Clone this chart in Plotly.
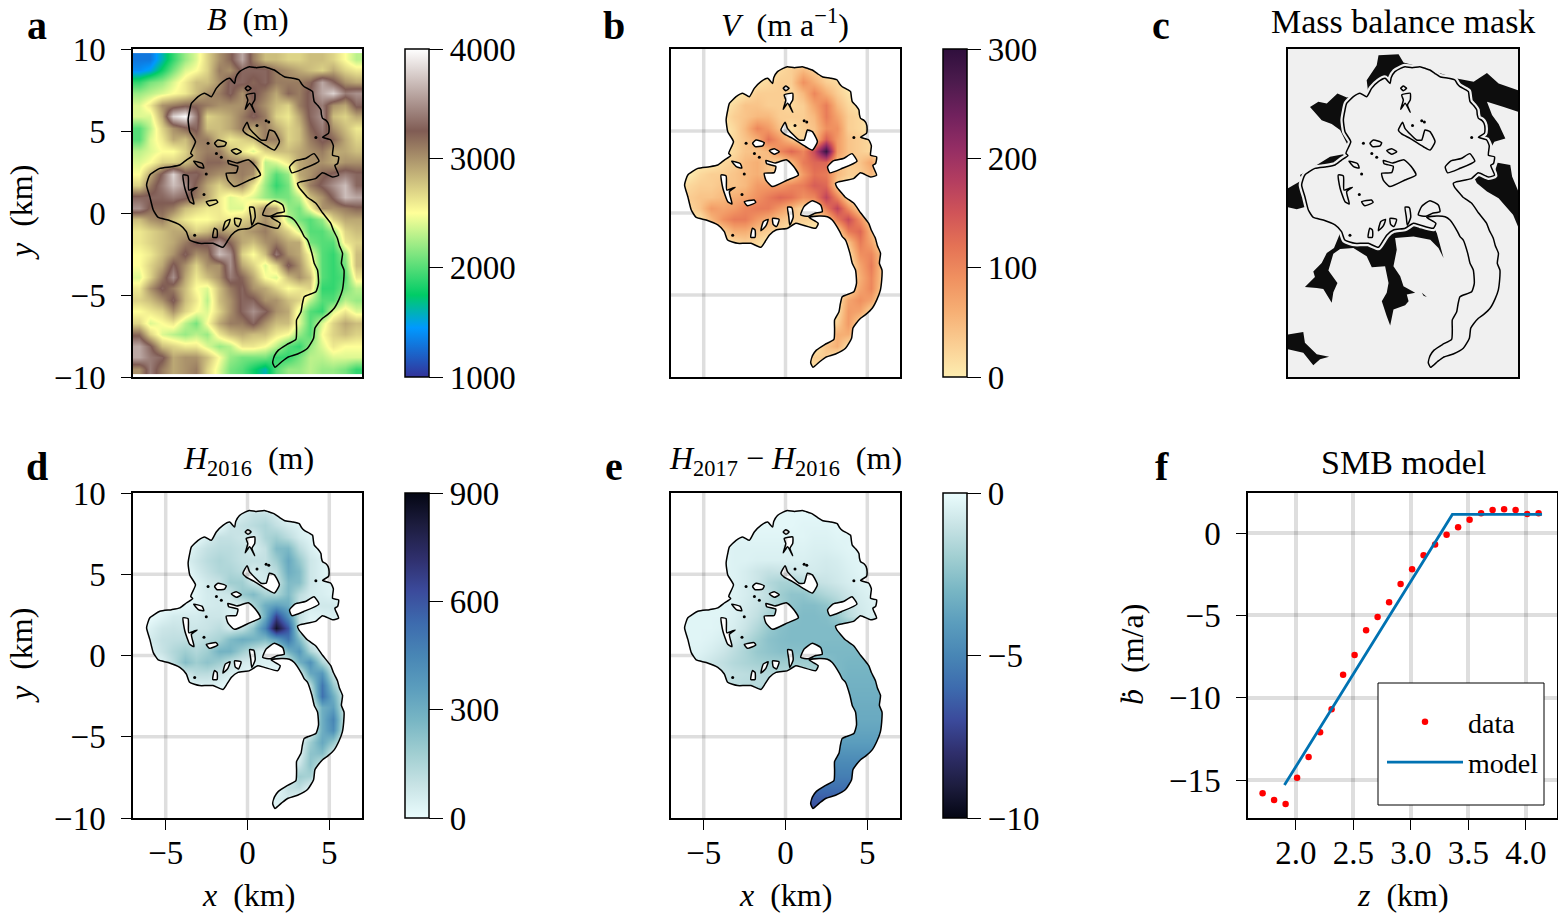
import numpy as np
import plotly.graph_objects as go

W, H = 1558, 915
FONT = "Liberation Serif"

# glacier outline (km)
outline_x = [-0.79,-0.72,-0.49,-0.15,0.12,0.55,1.03,1.40,1.64,1.95,2.25,2.75,3.16,3.30,3.47,3.80,3.98,4.03,4.08,4.30,4.49,4.52,4.59,4.80,4.93,4.99,4.95,4.59,5.09,5.25,5.20,5.57,5.51,5.34,5.57,5.20,4.58,4.16,3.23,3.06,3.13,3.64,4.18,4.60,5.09,5.25,5.50,5.62,5.81,5.74,5.90,5.88,5.80,5.60,5.30,4.95,4.59,4.30,4.12,4.04,3.67,3.06,2.45,2.09,1.68,1.54,1.65,1.89,2.40,2.96,3.00,3.00,3.27,3.35,3.47,4.18,4.34,4.28,4.08,3.94,3.67,3.47,3.30,2.86,2.56,2.05,1.44,2.00,1.85,1.03,0.63,0.13,-0.58,-0.98,-1.25,-1.50,-2.11,-2.52,-2.93,-3.54,-3.74,-4.14,-4.85,-5.46,-5.76,-5.97,-6.17,-5.97,-5.36,-4.65,-4.14,-3.74,-3.35,-3.47,-3.18,-3.53,-3.63,-3.53,-3.43,-3.02,-2.62,-2.21,-1.91,-1.50,-1.09]
outline_y = [7.90,8.25,8.62,8.82,8.92,8.86,8.92,8.80,8.72,8.50,8.31,8.22,8.11,7.88,7.70,7.52,7.40,7.05,6.79,6.55,6.28,6.00,5.77,5.65,5.47,5.15,4.86,4.62,4.45,4.10,3.52,3.42,3.02,2.91,2.30,2.20,2.45,2.10,1.90,1.81,1.60,0.98,0.59,0.00,-0.63,-1.05,-1.55,-2.00,-2.46,-3.07,-3.48,-4.10,-4.70,-5.25,-5.81,-6.15,-6.42,-6.75,-7.03,-7.64,-8.25,-8.60,-8.80,-9.07,-9.41,-9.12,-8.70,-8.36,-8.02,-7.70,-7.10,-6.52,-6.02,-5.55,-5.10,-4.80,-4.29,-3.48,-3.07,-2.46,-1.65,-1.44,-1.10,-0.43,-0.23,-0.19,-0.27,-0.63,-0.93,-0.73,-0.63,-0.93,-1.04,-1.34,-1.75,-2.09,-1.85,-1.85,-1.85,-1.65,-1.14,-0.73,-0.43,-0.27,0.18,0.99,1.71,2.32,2.72,2.82,2.93,3.23,3.50,3.64,4.35,4.96,5.67,6.28,6.68,7.09,7.30,7.09,7.60,8.01,8.21]

# rock outcrops inside the glacier (km)
holes = [
    [(-1.20,3.20),(-0.65,3.05),(0.05,3.25),(0.50,2.83),(0.79,2.32),(0.12,2.01),(-0.80,1.61),(-1.20,2.01),(-1.30,2.42),(-0.69,2.46),(-0.59,2.85),(-1.15,3.00)],
    [(-0.28,5.06),(-0.02,5.53),(0.12,5.16),(0.83,4.45),(1.14,4.45),(1.34,5.06),(1.64,4.96),(1.95,4.35),(1.64,3.84),(1.24,4.04),(0.43,4.55),(-0.08,4.82)],
    [(2.57,2.81),(2.92,3.18),(3.54,3.32),(4.06,3.62),(4.37,3.16),(3.44,2.71),(2.71,2.45)],
    [(0.93,-0.12),(1.13,0.39),(1.64,0.75),(2.15,0.49),(2.25,0.08),(1.80,-0.02),(1.40,-0.20)],
    [(-2.01,4.25),(-1.80,4.45),(-1.30,4.29),(-1.40,4.09),(-1.85,4.05)],
    [(-0.99,3.80),(-0.69,3.92),(-0.38,3.74),(-0.69,3.58)],
    [(-0.14,7.60),(0.02,7.74),(0.22,7.60),(0.02,7.46)],
    [(-0.08,7.20),(0.44,7.30),(0.44,6.89),(0.27,6.59),(0.44,6.14),(0.13,6.69),(-0.14,6.32),(0.02,6.89)],
    [(-3.94,2.32),(-3.63,2.26),(-3.59,1.40),(-3.08,1.57),(-3.43,1.30),(-3.27,0.55),(-3.53,0.69),(-3.83,1.51)],
    [(-2.52,0.68),(-1.92,0.79),(-1.82,0.65),(-2.32,0.44)],
    [(-2.02,-0.93),(-1.86,-1.04),(-1.86,-1.48),(-2.12,-1.48)],
    [(-1.36,-0.53),(-1.06,-0.39),(-1.20,-0.79),(-1.50,-1.08)],
    [(-0.79,-0.33),(-0.39,-0.39),(-0.55,-0.83),(-0.75,-0.70)],
    [(0.13,0.36),(0.39,0.32),(0.47,-0.27),(0.26,-0.74),(0.20,-0.22)],
    [(-3.29,3.16),(-2.77,3.02),(-2.67,2.75),(-2.98,2.81)],
]
dots_x = [0.58,1.14,1.30,4.18,-3.23,-2.41,-1.60,-1.90,-2.66,-2.52]
dots_y = [5.33,5.62,5.55,4.60,-1.35,4.25,3.40,3.63,1.13,2.38]

# black areas of the mass balance mask (km)
mask_areas = [
    [(-2.10,7.18),(-2.21,8.10),(-1.60,9.01),(-1.49,9.62),(-0.27,9.68),(0.03,9.17),(0.84,8.97),(3.28,8.20),(4.30,8.00),(5.11,8.54),(5.82,7.89),(7.0,7.49),(7.0,6.17),(6.13,6.47),(5.11,6.78),(5.42,5.97),(5.82,5.42),(6.23,4.55),(5.56,4.35),(5.21,3.74),(4.91,4.45),(3.28,6.88),(0.23,8.3),(-1.8,7.28)],
    [(-5.66,6.47),(-5.15,6.78),(-4.64,6.68),(-3.99,7.28),(-3.42,7.04),(-2.71,7.18),(-3.02,6.47),(-3.32,4.04),(-3.83,5.06),(-4.34,5.42),(-4.95,5.66)],
    [(-6.27,2.32),(-5.25,2.93),(-4.44,3.43),(-3.32,3.64),(-3.02,3.03),(-4.64,2.42),(-6.07,1.91)],
    [(-7,1.51),(-6.1,2.02),(-5.86,0.4),(-6.47,0.23),(-7,0.35)],
    [(4.30,2.22),(5.11,2.52),(5.52,2.32),(5.76,3.07),(6.53,2.93),(6.64,2.22),(7,1.37),(7,-0.82),(6.70,-0.11),(5.82,0.9),(5.11,1.31),(4.50,1.81)],
    [(-3.83,-1.23),(-4.20,-2.14),(-4.64,-2.44),(-4.95,-3.05),(-5.46,-3.56),(-5.36,-3.90),(-5.97,-4.51),(-5.25,-4.57),(-4.85,-4.63),(-4.34,-5.48),(-4.24,-4.83),(-3.99,-4.27),(-4.54,-3.50),(-4.24,-2.48),(-3.83,-2.20),(-3.02,-2.14),(-2.21,-2.64),(-1.90,-3.31),(-1.09,-3.25),(-0.88,-4.27),(-0.99,-4.87),(-1.29,-5.38),(-0.99,-6.29),(-0.78,-6.86),(-0.58,-5.89),(0.13,-5.62),(0.34,-5.38),(0.23,-4.97),(0.74,-4.87),(0.03,-4.47),(-0.17,-3.86),(-0.58,-3.25),(-0.38,-2.24),(-0.48,-1.53),(0.64,-1.43),(1.66,-1.63),(2.16,-2.14),(2.47,-2.75),(2.06,-1.23),(1.76,-0.62),(0.23,-0.52),(-1.80,-1.23)],
    [(1.15,-4.87),(1.45,-5.12),(1.25,-5.05)],
    [(-7,-7.41),(-6.07,-7.26),(-5.97,-7.91),(-5.25,-8.62),(-4.50,-8.76),(-5.05,-8.92),(-5.46,-9.29),(-6.07,-8.52),(-7,-8.31)],
]

grid_x = [-6.65,-5.95,-5.25,-4.55,-3.85,-3.15,-2.45,-1.75,-1.05,-0.35,0.35,1.05,1.75,2.45,3.15,3.85,4.55,5.25,5.95,6.65]
grid_y = [9.4,8.7,8.0,7.3,6.6,5.9,5.2,4.5,3.8,3.1,2.4,1.7,1.0,0.3,-0.4,-1.1,-1.8,-2.5,-3.2,-3.9,-4.6,-5.3,-6.0,-6.7,-7.4,-8.1,-8.8,-9.5]

# bed elevation, hundreds of m
bed = [
    [13,13,16,19,22,24,27,30,32,36,31,28,28,27,27,28,28,27,25,23],
    [14,15,18,21,24,25,27,31,30,33,33,33,31,30,29,28,27,29,27,26],
    [19,21,22,24,26,28,28,30,33,33,32,33,31,31,31,32,36,33,30,29],
    [22,23,24,25,26,28,30,31,33,30,33,31,29,32,31,33,36,38,34,35],
    [24,26,30,31,32,32,31,30,30,30,32,30,28,27,31,33,34,30,29,33],
    [24,24,29,38,40,34,27,28,29,31,33,31,27,26,29,33,35,28,27,29],
    [20,23,27,30,32,33,28,28,29,31,29,31,29,27,28,32,34,30,28,26],
    [20,24,26,29,28,31,31,28,26,27,28,31,31,27,28,31,33,32,29,27],
    [23,24,25,25,27,30,31,31,28,26,24,27,28,28,29,30,31,29,29,28],
    [24,25,27,27,28,30,32,32,31,31,31,23,24,26,29,30,30,29,30,30],
    [25,29,33,38,33,33,31,30,30,31,30,23,20,22,29,30,32,33,34,33],
    [27,31,34,37,35,32,29,27,29,30,26,22,19,21,27,31,33,35,37,33],
    [33,33,33,34,33,31,29,26,24,25,24,22,21,21,23,28,30,33,37,36],
    [35,32,32,31,28,27,26,26,24,24,27,30,29,22,21,25,30,30,31,32],
    [28,30,31,28,26,25,25,26,26,27,28,30,28,23,21,20,22,27,29,29],
    [26,27,28,29,29,27,28,30,29,29,30,31,29,27,24,20,20,22,27,28],
    [26,27,28,29,31,33,33,35,32,29,28,30,31,29,29,21,20,20,26,27],
    [25,26,28,30,33,30,31,37,35,27,25,28,34,30,29,25,20,19,22,28],
    [25,27,29,33,30,27,30,30,35,29,27,24,27,33,30,26,20,19,21,28],
    [24,27,31,35,29,26,28,30,34,32,29,25,24,28,30,28,20,19,20,26],
    [26,30,33,31,28,25,24,28,31,33,30,29,27,25,26,27,19,19,21,23],
    [27,28,30,33,28,26,23,28,30,33,33,30,30,28,27,23,20,20,23,22],
    [25,26,27,30,27,25,24,27,30,33,35,33,30,29,24,20,19,24,26,24],
    [27,24,25,26,23,21,25,29,31,31,33,30,28,28,24,20,24,27,29,28],
    [32,27,24,23,22,23,22,26,28,29,28,28,26,25,22,20,25,27,28,27],
    [36,33,28,27,26,26,24,22,23,26,26,25,23,20,19,22,24,26,25,25],
    [36,34,33,29,30,30,28,25,22,21,21,21,19,19,21,23,23,24,24,24],
    [30,34,31,29,30,31,27,24,21,20,18,16,20,22,22,23,22,22,21,19],
]

# surface speed, tens of m/a
speed = [
    [0,0,0,0,0,0,0,0,0,0,0,0,0,0,0,0,0,0,0,0],
    [0,0,0,0,0,0,0,0,0,2,3,5,3,1,0,0,0,0,0,0],
    [0,0,0,0,0,0,0,1,2,3,3,9,6,3,2,0,0,0,0,0],
    [0,0,0,0,0,0,1,3,3,3,2,5,10,6,3,1,0,0,0,0],
    [0,0,0,0,0,2,4,4,3,3,2,3,7,11,5,2,1,0,0,0],
    [0,0,0,0,1,3,4,5,5,3,3,3,5,11,7,3,2,0,0,0],
    [0,0,0,0,0,2,5,10,8,4,1,3,4,9,9,3,2,0,0,0],
    [0,0,0,0,0,2,4,6,12,8,4,2,4,14,8,4,3,2,0,0],
    [0,0,0,0,0,2,4,4,5,10,13,10,16,29,8,4,3,2,0,0],
    [0,0,0,0,2,3,5,6,4,2,5,11,13,13,5,3,4,7,0,0],
    [0,0,2,3,3,4,5,6,4,2,2,8,12,11,5,3,3,5,0,0],
    [0,2,3,3,4,4,5,8,8,8,10,11,14,13,3,0,0,0,0,0],
    [0,3,4,4,5,6,7,9,11,13,12,9,10,17,10,2,0,0,0,0],
    [0,2,4,8,7,8,10,11,11,8,5,2,3,11,17,9,2,0,0,0],
    [0,0,1,5,9,11,11,8,6,4,3,3,2,4,11,16,9,2,0,0],
    [0,0,0,0,3,6,6,4,3,2,0,0,0,0,2,11,13,5,0,0],
    [0,0,0,0,0,2,3,2,0,0,0,0,0,0,0,4,11,7,0,0],
    [0,0,0,0,0,0,0,0,0,0,0,0,0,0,0,1,9,10,3,0],
    [0,0,0,0,0,0,0,0,0,0,0,0,0,0,0,0,7,11,3,0],
    [0,0,0,0,0,0,0,0,0,0,0,0,0,0,0,0,6,10,3,0],
    [0,0,0,0,0,0,0,0,0,0,0,0,0,0,0,1,7,10,2,0],
    [0,0,0,0,0,0,0,0,0,0,0,0,0,0,1,7,9,7,0,0],
    [0,0,0,0,0,0,0,0,0,0,0,0,0,0,1,8,7,2,0,0],
    [0,0,0,0,0,0,0,0,0,0,0,0,0,0,3,8,2,0,0,0],
    [0,0,0,0,0,0,0,0,0,0,0,0,0,0,6,6,0,0,0,0],
    [0,0,0,0,0,0,0,0,0,0,0,0,0,4,6,1,0,0,0,0],
    [0,0,0,0,0,0,0,0,0,0,0,0,3,3,0,0,0,0,0,0],
    [0,0,0,0,0,0,0,0,0,0,0,0,1,0,0,0,0,0,0,0],
]

# ice thickness 2016, tens of m
thick = [
    [0,0,0,0,0,0,0,0,0,0,0,0,0,0,0,0,0,0,0,0],
    [0,0,0,0,0,0,0,0,0,6,10,10,6,0,0,0,0,0,0,0],
    [0,0,0,0,0,0,0,0,8,10,12,15,10,6,4,0,0,0,0,0],
    [0,0,0,0,0,0,5,10,10,8,5,15,18,12,6,3,0,0,0,0],
    [0,0,0,0,0,6,10,12,12,10,5,10,25,26,12,5,0,0,0,0],
    [0,0,0,0,4,8,12,15,13,10,10,10,18,32,20,8,4,0,0,0],
    [0,0,0,0,0,6,10,14,15,12,5,8,12,30,25,8,4,0,0,0],
    [0,0,0,0,0,3,7,9,18,18,8,5,8,25,24,8,4,3,0,0],
    [0,0,0,0,0,3,6,7,8,20,25,16,15,25,12,6,5,3,0,0],
    [0,0,0,0,2,3,6,7,5,5,15,30,35,30,8,5,7,7,0,0],
    [0,0,3,6,6,6,8,8,4,2,3,30,65,40,10,3,3,5,0,0],
    [0,4,8,9,8,8,9,12,6,10,22,45,85,60,10,0,0,0,0,0],
    [0,6,10,11,11,10,13,16,25,30,28,25,35,50,25,3,0,0,0,0],
    [0,4,9,14,18,14,18,28,28,18,10,3,4,28,38,15,2,0,0,0],
    [0,0,3,12,24,18,22,18,10,6,5,4,4,6,28,40,15,2,0,0],
    [0,0,0,0,7,12,12,8,5,3,0,0,0,0,4,32,38,8,0,0],
    [0,0,0,0,0,4,4,3,0,0,0,0,0,0,0,12,50,20,0,0],
    [0,0,0,0,0,0,0,0,0,0,0,0,0,0,0,3,52,30,4,0],
    [0,0,0,0,0,0,0,0,0,0,0,0,0,0,0,0,30,35,5,0],
    [0,0,0,0,0,0,0,0,0,0,0,0,0,0,0,0,30,45,6,0],
    [0,0,0,0,0,0,0,0,0,0,0,0,0,0,0,3,30,42,4,0],
    [0,0,0,0,0,0,0,0,0,0,0,0,0,0,2,18,32,20,0,0],
    [0,0,0,0,0,0,0,0,0,0,0,0,0,0,2,22,24,5,0,0],
    [0,0,0,0,0,0,0,0,0,0,0,0,0,0,8,22,8,0,0,0],
    [0,0,0,0,0,0,0,0,0,0,0,0,0,2,18,16,1,0,0,0],
    [0,0,0,0,0,0,0,0,0,0,0,0,0,10,12,3,0,0,0,0],
    [0,0,0,0,0,0,0,0,0,0,0,0,5,6,2,0,0,0,0,0],
    [0,0,0,0,0,0,0,0,0,0,0,0,2,0,0,0,0,0,0,0],
]

# thickness change 2016-2017, tenths of m
dthick = [
    [-2,-2,-2,-2,-2,-2,-2,-2,-2,-2,-2,-2,-2,-2,-2,-2,-2,-2,-2,-2],
    [-2,-2,-2,-2,-2,-2,-2,-2,-2,-2,-2,-2,-2,-2,-2,-2,-2,-2,-2,-2],
    [-2,-2,-2,-2,-2,-2,-2,-2,-2,-2,-2,-3,-3,-3,-2,-2,-2,-2,-2,-2],
    [-3,-3,-3,-3,-3,-3,-3,-3,-3,-3,-3,-3,-4,-4,-3,-3,-3,-3,-3,-3],
    [-3,-3,-3,-3,-3,-4,-4,-4,-4,-4,-4,-4,-5,-5,-4,-3,-3,-3,-3,-3],
    [-3,-3,-3,-3,-3,-4,-4,-5,-5,-5,-5,-5,-6,-7,-6,-4,-3,-3,-3,-3],
    [-3,-3,-3,-3,-3,-4,-6,-9,-11,-10,-8,-7,-7,-8,-7,-5,-3,-3,-3,-3],
    [-3,-3,-3,-3,-3,-4,-6,-9,-15,-18,-18,-14,-11,-10,-8,-6,-4,-3,-3,-3],
    [-3,-3,-3,-3,-3,-4,-6,-9,-12,-20,-24,-24,-20,-16,-13,-9,-6,-4,-3,-3],
    [-3,-3,-3,-3,-3,-4,-7,-10,-14,-18,-24,-27,-27,-24,-18,-11,-7,-5,-4,-3],
    [-3,-3,-3,-3,-3,-5,-8,-12,-18,-22,-26,-28,-28,-27,-22,-14,-8,-5,-4,-3],
    [-3,-3,-3,-3,-4,-6,-10,-16,-22,-26,-28,-28,-28,-28,-28,-28,-28,-28,-28,-28],
    [-3,-3,-3,-4,-6,-9,-14,-20,-25,-27,-28,-28,-28,-28,-28,-28,-28,-28,-28,-28],
    [-3,-3,-4,-6,-9,-13,-17,-22,-24,-26,-26,-26,-28,-29,-29,-29,-29,-29,-29,-29],
    [-4,-4,-6,-9,-12,-15,-17,-19,-20,-20,-20,-20,-20,-25,-29,-30,-30,-30,-30,-30],
    [-8,-8,-8,-9,-10,-12,-13,-14,-15,-15,-15,-15,-15,-20,-28,-31,-31,-31,-31,-31],
    [-12,-12,-12,-12,-12,-13,-14,-14,-14,-14,-14,-14,-20,-28,-32,-32,-32,-32,-32,-32],
    [-33,-33,-33,-33,-33,-33,-33,-33,-33,-33,-33,-33,-33,-33,-33,-33,-33,-33,-33,-33],
    [-34,-34,-34,-34,-34,-34,-34,-34,-34,-34,-34,-34,-34,-34,-34,-34,-34,-34,-34,-34],
    [-35,-35,-35,-35,-35,-35,-35,-35,-35,-35,-35,-35,-35,-35,-35,-35,-35,-35,-35,-35],
    [-37,-37,-37,-37,-37,-37,-37,-37,-37,-37,-37,-37,-37,-37,-37,-37,-37,-37,-37,-37],
    [-40,-40,-40,-40,-40,-40,-40,-40,-40,-40,-40,-40,-40,-40,-40,-40,-40,-40,-40,-40],
    [-45,-45,-45,-45,-45,-45,-45,-45,-45,-45,-45,-45,-45,-45,-45,-45,-45,-45,-45,-45],
    [-49,-49,-49,-49,-49,-49,-49,-49,-49,-49,-49,-49,-49,-49,-49,-49,-49,-49,-49,-49],
    [-53,-53,-53,-53,-53,-53,-53,-53,-53,-53,-53,-53,-53,-53,-53,-53,-53,-53,-53,-53],
    [-58,-58,-58,-58,-58,-58,-58,-58,-58,-58,-58,-58,-58,-58,-58,-58,-58,-58,-58,-58],
    [-64,-64,-64,-64,-64,-64,-64,-64,-64,-64,-64,-64,-64,-64,-64,-64,-64,-64,-64,-64],
    [-70,-70,-70,-70,-70,-70,-70,-70,-70,-70,-70,-70,-70,-70,-70,-70,-70,-70,-70,-70],
]

# panel f
smb_z = [1.71,1.81,1.91,2.01,2.11,2.21,2.31,2.41,2.51,2.61,2.71,2.81,2.91,3.01,3.11,3.21,3.31,3.41,3.51,3.61,3.71,3.81,3.91,4.01,4.11]
smb_b = [-15.8,-16.2,-16.45,-14.85,-13.6,-12.1,-10.7,-8.6,-7.4,-5.9,-5.1,-4.2,-3.1,-2.2,-1.35,-0.7,-0.1,0.35,0.8,1.2,1.4,1.45,1.4,1.15,1.2]
model_z = [1.90,3.36,4.14]
model_b = [-15.3,1.13,1.13]

terrain = [[0,"rgb(51,51,153)"],[0.15,"rgb(0,153,255)"],[0.25,"rgb(0,204,102)"],[0.5,"rgb(255,255,153)"],[0.75,"rgb(128,92,84)"],[1,"rgb(255,255,255)"]]
matter = [[0,"rgb(253,237,176)"],[0.1,"rgb(250,206,147)"],[0.2,"rgb(246,175,116)"],[0.3,"rgb(240,145,96)"],[0.4,"rgb(228,114,85)"],[0.5,"rgb(208,84,88)"],[0.6,"rgb(179,61,96)"],[0.7,"rgb(147,45,100)"],[0.8,"rgb(112,33,93)"],[0.9,"rgb(76,27,77)"],[1,"rgb(47,15,61)"]]
ice = [[0,"rgb(4,6,19)"],[0.1,"rgb(29,29,63)"],[0.2,"rgb(47,47,108)"],[0.3,"rgb(59,74,155)"],[0.4,"rgb(61,107,174)"],[0.5,"rgb(72,134,181)"],[0.6,"rgb(91,157,189)"],[0.7,"rgb(120,182,196)"],[0.8,"rgb(160,206,209)"],[0.9,"rgb(200,227,229)"],[1,"rgb(234,252,253)"]]
ice_r = [[round(1 - s, 2), c] for s, c in reversed(ice)]

grid_line = dict(color="rgba(0,0,0,0.13)", width=3.5)
black_thin = dict(color="black", width=1.5, shape="spline", smoothing=0.5)


def rings():
    return [list(zip(outline_x, outline_y))] + holes


def ring_lines():
    xs, ys = [], []
    for r in rings():
        pts = r + [r[0]]
        xs += [p[0] for p in pts] + [None]
        ys += [p[1] for p in pts] + [None]
    return xs, ys


def signed_area(r):
    a = 0
    for (x0, y0), (x1, y1) in zip(r, r[1:] + r[:1]):
        a += x0 * y1 - x1 * y0
    return a


def white_mask():
    # page rectangle with the glacier cut out, rock outcrops put back
    xs = [-7, 7, 7, -7, -7, None]
    ys = [-10, -10, 10, 10, -10, None]
    for i, r in enumerate(rings()):
        want_ccw = i > 0
        r = r if (signed_area(r) > 0) == want_ccw else r[::-1]
        pts = r + [r[0]]
        xs += [p[0] for p in pts] + [None]
        ys += [p[1] for p in pts] + [None]
    return xs, ys


def outside_spans(value, vertical, low, high):
    # parts of a grid line that do not run under the glacier
    cuts = []
    for r in rings():
        for (x0, y0), (x1, y1) in zip(r, r[1:] + r[:1]):
            a0, a1, b0, b1 = (x0, x1, y0, y1) if vertical else (y0, y1, x0, x1)
            if (a0 - value) * (a1 - value) < 0:
                cuts.append(b0 + (value - a0) / (a1 - a0) * (b1 - b0))
    stops = [low] + sorted(cuts) + [high]
    run, fix = [], []
    for s, e in zip(stops[::2], stops[1::2]):
        run += [s, e, None]
        fix += [value, value, None]
    return (fix, run) if vertical else (run, fix)


def px_x(p):
    return p / W


def px_y(p):
    return 1 - p / H


fig = go.Figure()

panels = {
    1: (133, 362, 49, 377),
    2: (671, 900, 49, 377),
    3: (1288, 1518, 49, 377),
    4: (133, 362, 493, 818),
    5: (671, 900, 493, 818),
    6: (1248, 1557, 493, 818),
}
tick_font = dict(family=FONT, size=33, color="black")
common = dict(showgrid=False, zeroline=False, showline=True, mirror=True, linecolor="black", linewidth=1.5,
              ticklen=10, tickwidth=1.3, tickcolor="black", tickfont=tick_font)
for n, (x0, x1, y0, y1) in panels.items():
    show_x = n in (4, 5)
    show_y = n in (1, 4)
    fig.layout[f"xaxis{n}"] = dict(common, domain=[px_x(x0), px_x(x1)], range=[-7, 7], anchor=f"y{n}",
                                   tickvals=[-5, 0, 5] if show_x else [], ticks="outside" if show_x else "",
                                   showticklabels=show_x, ticklabelstandoff=-5)
    fig.layout[f"yaxis{n}"] = dict(common, domain=[px_y(y1), px_y(y0)], range=[-10, 10], anchor=f"x{n}",
                                   tickvals=[-10, -5, 0, 5, 10] if show_y else [], ticks="outside" if show_y else "",
                                   showticklabels=show_y, ticklabelstandoff=9)
fig.layout["xaxis6"].update(range=[1.583, 4.27], tickvals=[2, 2.5, 3, 3.5, 4], tickformat=".1f", ticks="outside",
                            showticklabels=True, showgrid=True, gridcolor="rgba(0,0,0,0.13)", gridwidth=3.5)
fig.layout["yaxis6"].update(range=[-17.3, 2.43], tickvals=[-15, -10, -5, 0], ticks="outside",
                            showticklabels=True, showgrid=True, gridcolor="rgba(0,0,0,0.13)", gridwidth=3.5)


def add_field(n, z, scale, zmin, zmax, ticks, cb_left, masked=True):
    x0, x1, y0, y1 = panels[n]
    fig.add_trace(go.Heatmap(
        x=grid_x, y=grid_y, z=z, colorscale=scale, zmin=zmin, zmax=zmax, zsmooth="best",
        xaxis=f"x{n}", yaxis=f"y{n}", hoverinfo="skip",
        colorbar=dict(x=px_x(cb_left), xanchor="left", xpad=0, ypad=0, y=px_y(y1), yanchor="bottom",
                      lenmode="fraction", len=(y1 - y0) / H, thicknessmode="pixels", thickness=24,
                      outlinecolor="black", outlinewidth=1.5, tickmode="array", tickvals=ticks,
                      ticks="outside", ticklen=14, tickwidth=1.3, tickcolor="black", tickfont=tick_font),
    ))
    if masked:
        mx, my = white_mask()
        fig.add_trace(go.Scatter(x=mx, y=my, mode="lines", fill="toself", fillcolor="white",
                                 line=dict(color="rgba(255,255,255,0)", width=0, shape="spline", smoothing=0.5),
                                 xaxis=f"x{n}", yaxis=f"y{n}", hoverinfo="skip", showlegend=False))
        gx, gy = [], []
        for v in (-5, 0, 5):
            a, b = outside_spans(v, True, -10, 10)
            gx += a
            gy += b
        fig.add_trace(go.Scatter(x=gx, y=gy, mode="lines", line=grid_line, xaxis=f"x{n}", yaxis=f"y{n}",
                                 hoverinfo="skip", showlegend=False))
        gx, gy = [], []
        for v in (-5, 0, 5):
            a, b = outside_spans(v, False, -7, 7)
            gx += a
            gy += b
        fig.add_trace(go.Scatter(x=gx, y=gy, mode="lines", line=grid_line, xaxis=f"x{n}", yaxis=f"y{n}",
                                 hoverinfo="skip", showlegend=False))


def add_outline(n):
    lx, ly = ring_lines()
    fig.add_trace(go.Scatter(x=lx, y=ly, mode="lines", line=black_thin, xaxis=f"x{n}", yaxis=f"y{n}",
                             hoverinfo="skip", showlegend=False))
    fig.add_trace(go.Scatter(x=dots_x, y=dots_y, mode="markers", marker=dict(color="black", size=3),
                             xaxis=f"x{n}", yaxis=f"y{n}", hoverinfo="skip", showlegend=False))


add_field(1, (100 * np.array(bed)).tolist(), terrain, 1000, 4000, [1000, 2000, 3000, 4000], 405, masked=False)
add_outline(1)
add_field(2, (10 * np.array(speed)).tolist(), matter, 0, 300, [0, 100, 200, 300], 943)
add_outline(2)
add_field(4, (10 * np.array(thick)).tolist(), ice_r, 0, 900, [0, 300, 600, 900], 405)
add_outline(4)
add_field(5, (np.array(dthick) / 10).tolist(), ice, -10, 0, [-10, -5, 0], 943)
add_outline(5)

# panel c
fig.add_trace(go.Scatter(x=[-7, 7, 7, -7, -7], y=[-10, -10, 10, 10, -10], mode="none", fill="toself",
                         fillcolor="#f0f0f0", xaxis="x3", yaxis="y3", hoverinfo="skip", showlegend=False))
for area in mask_areas:
    pts = area + [area[0]]
    fig.add_trace(go.Scatter(x=[p[0] for p in pts], y=[p[1] for p in pts], mode="none", fill="toself",
                             fillcolor="#0d0d0d", xaxis="x3", yaxis="y3", hoverinfo="skip", showlegend=False))
fig.add_trace(go.Scatter(x=outline_x + outline_x[:1], y=outline_y + outline_y[:1], mode="lines", fill="toself",
                         fillcolor="#f0f0f0", line=dict(color="#f0f0f0", width=6, shape="spline", smoothing=0.5),
                         xaxis="x3", yaxis="y3", hoverinfo="skip", showlegend=False))
add_outline(3)

# panel f
fig.add_trace(go.Scatter(x=smb_z, y=smb_b, mode="markers", name="data", marker=dict(color="red", size=6.5),
                         xaxis="x6", yaxis="y6", hoverinfo="skip", legendgroup="a"))
fig.add_trace(go.Scatter(x=model_z, y=model_b, mode="lines", name="model", line=dict(color="#0072b2", width=2.8),
                         xaxis="x6", yaxis="y6", hoverinfo="skip", legendgroup="b"))

annots = [
    ("<b>a</b>", 37, 25, 40, 0), ("<b>b</b>", 614, 25, 40, 0), ("<b>c</b>", 1161, 25, 40, 0),
    ("<b>d</b>", 37, 467, 40, 0), ("<b>e</b>", 614, 467, 40, 0), ("<b>f</b>", 1162, 467, 40, 0),
    ("<i>B</i>  (m)", 248, 19, 32, 0), ("<i>V</i>  (m a<sup>−1</sup>)", 785, 23, 32, 0),
    ("Mass balance mask", 1403, 21, 34, 0),
    ("<i>H</i><sub>2016</sub>  (m)", 248, 460, 32, 0), ("<i>H</i><sub>2017</sub> − <i>H</i><sub>2016</sub>  (m)", 785, 460, 32, 0),
    ("SMB model", 1403, 463, 34, 0),
    ("<i>y</i>  (km)", 21, 213, 32, -90), ("<i>y</i>  (km)", 21, 656, 32, -90),
    ("<i>x</i>  (km)", 248, 895, 32, 0), ("<i>x</i>  (km)", 785, 895, 32, 0), ("<i>z</i>  (km)", 1403, 895, 32, 0),
    ("<i>ḃ</i>  (m/a)", 1132, 655, 32, -90),
]
for text, ax, ay, size, rot in annots:
    fig.add_annotation(text=text, x=px_x(ax), y=px_y(ay), xref="paper", yref="paper", xanchor="center",
                       yanchor="middle", showarrow=False, textangle=rot, font=dict(family=FONT, size=size, color="black"))

# legend box of panel f
fig.add_shape(type="rect", xref="paper", yref="paper", x0=px_x(1378), x1=px_x(1544), y0=px_y(805), y1=px_y(683),
              fillcolor="white", line=dict(color="black", width=1), layer="above")

fig.update_layout(
    width=W, height=H, autosize=False, margin=dict(l=0, r=0, t=0, b=0, autoexpand=False),
    paper_bgcolor="white", plot_bgcolor="white", font=dict(family=FONT, color="black"),
    legend=dict(x=px_x(1382), y=px_y(697), xanchor="left", yanchor="top", bgcolor="rgba(0,0,0,0)",
                font=dict(family=FONT, size=28), itemwidth=76, tracegroupgap=1, traceorder="grouped"),
)

fig.write_html("out.html", config={"displayModeBar": False}, post_script="document.body.style.margin='0';")
